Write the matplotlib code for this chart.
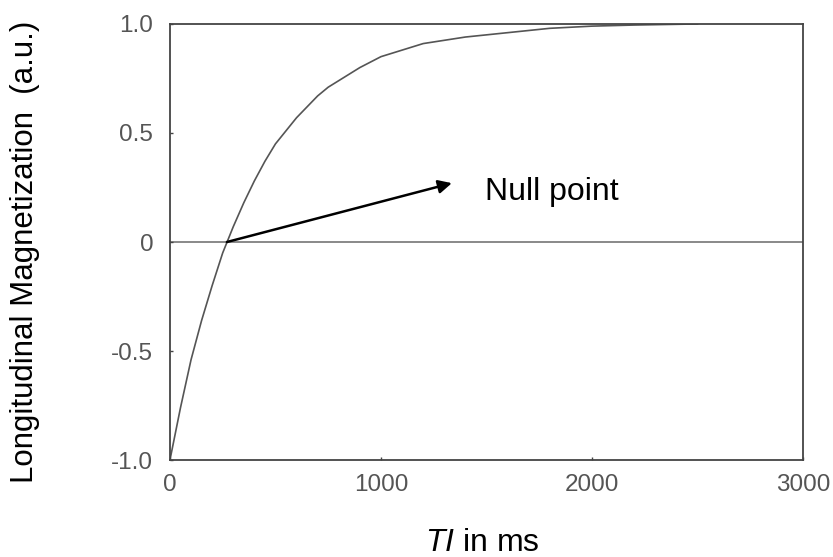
import matplotlib

matplotlib.use("Agg")
import matplotlib.pyplot as plt

# values
ti_ms = [0, 25, 50, 75, 100, 150, 200, 250, 300, 350, 400, 450, 500, 550, 600,
         650, 700, 750, 800, 900, 1000, 1100, 1200, 1300, 1400, 1600, 1800,
         2000, 2200, 2500]
mag = [-1.0, -0.88, -0.76, -0.65, -0.54, -0.36, -0.20, -0.05, 0.07, 0.18, 0.28,
       0.37, 0.45, 0.51, 0.57, 0.62, 0.67, 0.71, 0.74, 0.80, 0.85, 0.88, 0.91,
       0.925, 0.94, 0.96, 0.98, 0.99, 0.995, 1.0]

x_ticks = [0, 1000, 2000, 3000]
y_ticks = [-1.0, -0.5, 0, 0.5, 1.0]
y_tick_labels = ["-1.0", "-0.5", "0", "0.5", "1.0"]

null_ti = 270
arrow_tip = (1336, 0.27)
note_pos = (1493, 0.229)

plt.rcParams["font.family"] = ["Liberation Sans", "DejaVu Sans"]
plt.rcParams["mathtext.fontset"] = "custom"
plt.rcParams["mathtext.it"] = "Liberation Sans:italic"
plt.rcParams["mathtext.rm"] = "Liberation Sans"

fig = plt.figure(figsize=(8.33, 5.57), dpi=100)
ax = fig.add_axes([0.204, 0.174, 0.76, 0.783])

ax.axhline(0, color="#808080", lw=1.3, zorder=1)
ax.plot(ti_ms, mag, color="#555555", lw=1.2, zorder=2)

ax.annotate("", xy=arrow_tip, xytext=(null_ti, 0),
            arrowprops=dict(arrowstyle="-|>", color="black", lw=1.8,
                            mutation_scale=20, shrinkA=0, shrinkB=0))
ax.text(*note_pos, "Null point", fontsize=23, va="center", ha="left")

ax.set_xlim(0, 3000)
ax.set_ylim(-1.0, 1.0)
ax.set_xticks(x_ticks)
ax.set_yticks(y_ticks)
ax.set_yticklabels(y_tick_labels)
ax.tick_params(direction="in", length=2, width=1, colors="#444444",
               labelcolor="#555555", labelsize=17.5)
ax.tick_params(axis="y", pad=12)
ax.tick_params(axis="x", pad=10)
for side in ax.spines.values():
    side.set_color("#444444")
    side.set_linewidth(1.3)

ax.set_xlabel("$TI$ in ms", fontsize=23, va="center")
ax.xaxis.set_label_coords(0.493, -0.19)
ax.set_ylabel("Longitudinal Magnetization  (a.u.)", fontsize=22.5,
              va="center", ha="center")
ax.yaxis.set_label_coords(-0.229, 0.477)

fig.savefig("out.png", dpi=100)
plt.close(fig)
